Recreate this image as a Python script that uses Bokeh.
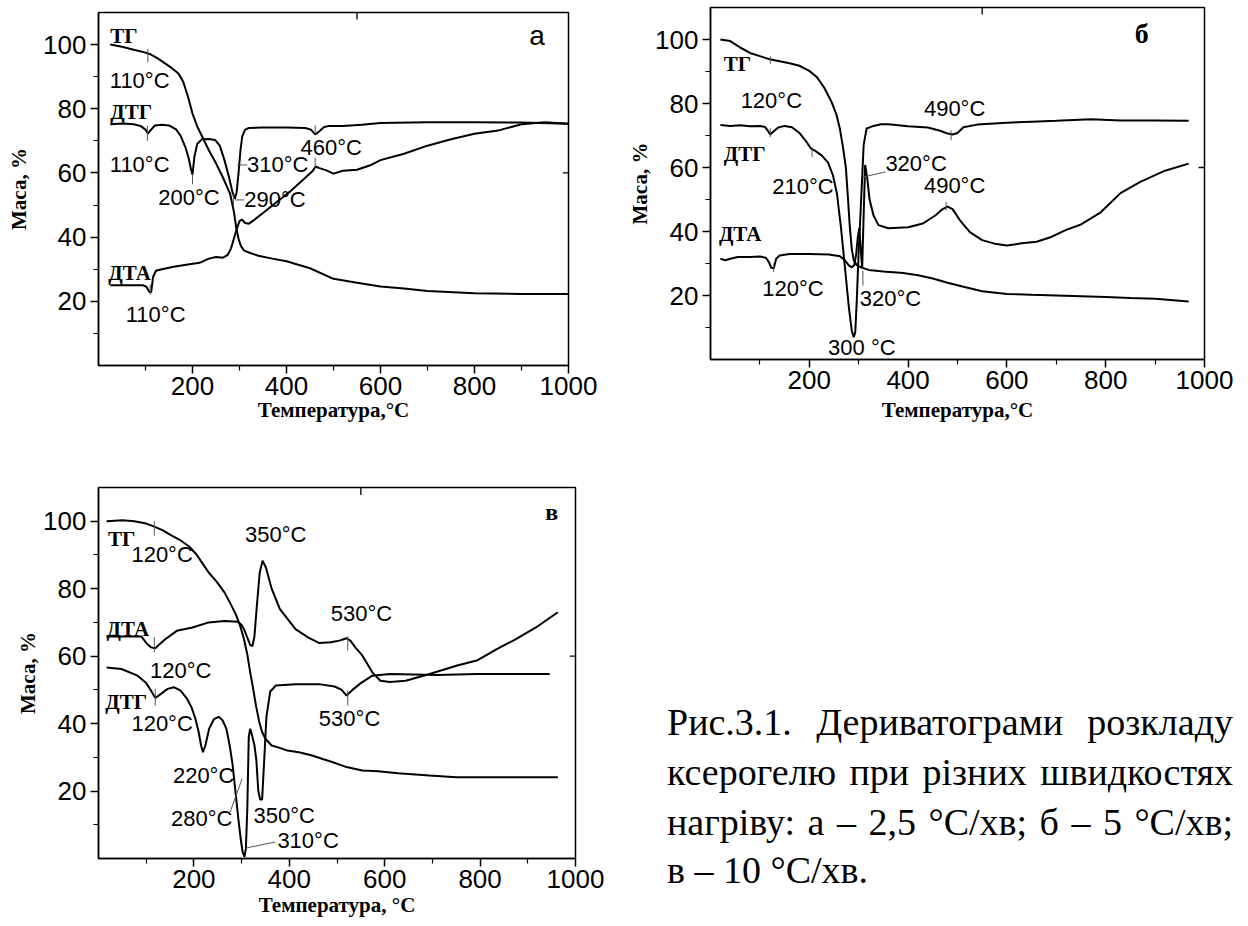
import math
from bokeh.plotting import figure
from bokeh.layouts import row, column
from bokeh.models import FixedTicker, Range1d, Div
from bokeh.core.properties import value
from bokeh.embed import file_html
from bokeh.resources import INLINE

# ---------------- data ----------------
# panel а (2.5 °C/хв)
A_TG_T = [25, 50, 75, 100, 110, 125, 140, 155, 170, 180, 190, 200, 210, 220, 235, 250, 265, 280, 288, 293, 298, 303, 310, 320, 340, 370, 400, 450, 500, 550, 600, 650, 700, 800, 900, 1000]
A_TG_M = [100, 99.3, 98.4, 97.5, 97, 95.8, 94.3, 92.8, 91, 88.5, 84, 78.5, 74.5, 71.5, 67, 63, 58.5, 53.5, 48, 43, 39.5, 37.2, 35.8, 35.2, 34.2, 33.3, 32.5, 30.3, 27, 25.8, 24.6, 24, 23.2, 22.5, 22.3, 22.3]
A_DTG_T = [25, 50, 75, 90, 100, 105, 112, 120, 135, 150, 165, 175, 185, 192, 197, 200, 204, 210, 220, 235, 248, 258, 268, 278, 285, 290, 294, 298, 302, 306, 312, 320, 350, 400, 440, 452, 461, 470, 480, 490, 520, 560, 600, 700, 800, 900, 1000]
A_DTG_M = [75.2, 75.4, 75.2, 74.6, 73.5, 72.3, 73.5, 74.8, 75, 74.8, 73.6, 71.5, 68, 64.5, 61, 59.5, 65, 69, 70.5, 70.6, 70.3, 68.5, 64, 58.5, 54, 52, 54, 60, 67, 71.5, 73.5, 74, 74.2, 74.2, 74, 73.5, 72, 73, 74.3, 74.6, 74.6, 75, 75.6, 75.8, 75.8, 75.7, 75.3]
A_DTA_T = [25, 60, 95, 102, 108, 112, 116, 122, 135, 160, 190, 215, 235, 250, 265, 275, 282, 288, 294, 300, 305, 312, 320, 330, 350, 380, 410, 440, 455, 462, 470, 485, 500, 520, 550, 580, 600, 650, 700, 750, 800, 850, 900, 950, 1000]
A_DTA_M = [25, 25, 25, 24.5, 23, 22.8, 27.5, 29.5, 30, 30.8, 31.5, 32, 33.3, 33.8, 33.6, 34.5, 36.5, 39.5, 42.5, 45, 45.5, 44.4, 44.2, 45.2, 47.5, 51, 54.5, 58.5, 60.5, 62, 61.5, 60.8, 59.8, 60.7, 61, 62.5, 64, 66, 68.5, 70.5, 72.2, 73.2, 75.2, 75.8, 75.3]

# panel б (5 °C/хв)
B_TG_T = [20, 40, 60, 80, 100, 120, 140, 160, 180, 200, 215, 230, 245, 255, 262, 268, 274, 278, 282, 286, 290, 296, 305, 320, 350, 390, 420, 450, 480, 510, 550, 600, 650, 700, 750, 800, 850, 900, 968]
B_TG_M = [100, 99.5, 97.5, 95.8, 94.8, 93.8, 93.2, 92.6, 91.8, 90.2, 88.3, 85, 80.5, 76.5, 72, 66.5, 60, 51, 41.5, 34.5, 31, 29.5, 28.8, 28, 27.5, 27, 26.3, 25.3, 24, 22.8, 21.3, 20.5, 20.2, 20, 19.8, 19.5, 19.2, 19, 18.1]
B_DTG_T = [20, 40, 60, 80, 100, 110, 116, 121, 128, 137, 150, 165, 180, 192, 203, 212, 225, 238, 248, 256, 264, 272, 280, 286, 290, 293, 296, 300, 305, 310, 316, 330, 345, 360, 400, 440, 465, 480, 490, 500, 512, 540, 600, 650, 700, 770, 830, 900, 968]
B_DTG_M = [73.3, 73, 73.2, 72.9, 73, 72.7, 71.5, 70.3, 71.3, 72.5, 73, 72.6, 70.8, 68.5, 66, 65.2, 63.8, 61.5, 57.5, 51.8, 41.4, 29, 16.4, 9, 7, 8.5, 18, 34, 50, 67, 72.2, 73, 73.5, 73.5, 72.9, 72.5, 71.5, 70.6, 70.3, 70.8, 72.6, 73.4, 74, 74.3, 74.6, 75.1, 74.7, 74.7, 74.6]
B_DTA_T = [20, 30, 40, 55, 80, 100, 112, 118, 123, 128, 133, 140, 160, 200, 240, 262, 272, 280, 286, 291, 295, 298, 301, 304, 307, 310, 313, 317, 322, 330, 340, 360, 400, 430, 455, 470, 480, 490, 505, 525, 550, 575, 600, 630, 660, 690, 720, 750, 790, 830, 870, 920, 968]
B_DTA_M = [31.5, 31, 31.5, 32, 32, 32.2, 31.8, 30.5, 28.7, 28.5, 31.5, 32.5, 33, 33, 32.8, 32.3, 31, 29.4, 28.8, 29.5, 33, 38, 41, 35, 28.5, 45, 60.8, 57, 50, 45, 42, 41, 41.3, 42.5, 45, 47, 47.8, 47, 43.5, 39.8, 37.3, 36.2, 35.6, 36.3, 36.8, 38.3, 40.5, 42.2, 46, 52, 55.5, 59, 61.2]

# panel в (10 °C/хв)
V_TG_T = [17, 50, 75, 100, 117, 135, 150, 170, 190, 205, 218, 231, 248, 264, 277, 289, 298, 305, 312, 318, 324, 330, 337, 343, 350, 363, 380, 396, 420, 446, 470, 490, 520, 553, 586, 628, 694, 750, 800, 873, 963]
V_TG_M = [100, 100.3, 100, 99.3, 98.4, 97.3, 96, 94.5, 92.5, 90.2, 87.5, 84.8, 82, 78.9, 75.5, 72, 68.5, 65, 60.5, 55.2, 50.5, 45.4, 40.5, 37.5, 35.5, 33.5, 32.8, 32, 31.5, 30.6, 29.5, 28.6, 27.1, 26.1, 25.9, 25.3, 24.6, 24.1, 24.1, 24.1, 24.1]
V_DTA_T = [17, 50, 90, 102, 110, 119, 128, 140, 164, 197, 231, 264, 293, 300, 305, 312, 318, 323, 327, 332, 338, 344, 351, 363, 380, 413, 440, 462, 487, 505, 520, 528, 540, 553, 574, 591, 611, 644, 694, 752, 793, 835, 876, 917, 963]
V_DTA_M = [65.8, 65.8, 65.8, 63.6, 62.6, 62.3, 63.5, 65, 67.5, 68.5, 70, 70.4, 70.2, 69.2, 68, 65.5, 63.3, 63, 66, 75, 84.8, 88.3, 86.3, 80, 74, 68, 65.5, 63.9, 64.1, 64.6, 65.3, 64.6, 62.3, 60.2, 55.2, 52.7, 52.3, 52.7, 54.7, 57.2, 58.7, 62.1, 65.1, 68.5, 73]
V_DTG_T = [17, 48, 82, 100, 110, 119, 131, 145, 158, 172, 185, 195, 203, 210, 215, 219, 224, 232, 242, 252, 260, 268, 275, 281, 287, 293, 298, 302, 306, 309, 312, 315, 318, 322, 327, 331, 335, 339, 343, 347, 352, 360, 372, 413, 462, 495, 510, 520, 535, 550, 574, 611, 710, 793, 946]
V_DTG_M = [56.6, 56.2, 54.2, 52, 49.8, 47.6, 48.8, 50.3, 50.8, 49.8, 47.5, 44.8, 41.5, 37.5, 33.5, 31.5, 33.5, 38.5, 41.3, 42, 41, 38.5, 33.5, 28, 20, 12, 6, 2, 0.5, 3, 15, 36, 38.5, 36.5, 33.5, 29, 20, 17.5, 17.5, 28, 42, 49.5, 51.3, 51.7, 51.7, 51, 50, 48.3, 50.3, 52, 54.2, 54.7, 54.4, 54.7, 54.7]

X_TICKS = [200, 400, 600, 800, 1000]
X_MINOR = [100, 300, 500, 700, 900]
Y_TICKS = [20, 40, 60, 80, 100]
Y_MINOR = [10, 30, 50, 70, 90]

SANS = "Liberation Sans"
SERIF = "Liberation Serif"

# ---------------- annotations ----------------
# (text, T, M, kind)  kind: 's' sans temperature label, 'c' bold curve name
A_TEXT = [("ТГ", 25, 102.8, "c"), ("110°C", 24, 88.8, "s"), ("ДТГ", 25, 79, "c"), ("110°C", 24, 62.7, "s"),
          ("200°C", 127, 52.3, "s"), ("290°C", 310, 51.8, "s"), ("310°C", 316, 62.7, "s"), ("460°C", 430, 67.9, "s"),
          ("ДТА", 21, 28.9, "c"), ("110°C", 58, 15.8, "s")]
A_MARKS = [(105, 105, 98.6, 94.5), (104, 104, 74.7, 70), (110, 110, 25.2, 22), (200, 200, 59.6, 56.5),
           (287, 287, 53.3, 49.7), (290, 310, 51.6, 51.6), (295, 316, 62.5, 62.5), (461, 461, 74.8, 72.1), (461, 461, 64.8, 61.7)]

B_TEXT = [("ТГ", 27, 92.5, "c"), ("120°C", 61, 81, "s"), ("ДТГ", 27, 64.3, "c"), ("210°C", 125, 54.1, "s"),
          ("ДТА", 17, 39.3, "c"), ("120°C", 105, 22.1, "s"), ("300 °C", 238, 3.8, "s"), ("320°C", 302, 19, "s"),
          ("320°C", 354, 61.2, "s"), ("490°C", 432, 78.4, "s"), ("490°C", 432, 54.4, "s")]
B_MARKS = [(121, 121, 94.8, 92.3), (121, 121, 72.2, 69.5), (205.6, 205.6, 66.4, 63.3), (128, 128, 30, 27.3),
           (308.5, 308.5, 27.8, 23.1), (308.5, 354, 57, 58.6), (487, 487, 71.6, 68.5), (477, 477, 49.2, 46.6)]

V_TEXT = [("ТГ", 20, 94.7, "c"), ("120°C", 69, 90.2, "s"), ("350°C", 307, 96.2, "s"), ("ДТА", 17, 68, "c"),
          ("120°C", 108, 55.7, "s"), ("530°C", 487, 72.5, "s"), ("ДТГ", 14, 46.3, "c"), ("120°C", 69, 40, "s"),
          ("530°C", 462, 41.4, "s"), ("220°C", 156, 24.6, "s"), ("280°C", 152, 11.8, "s"), ("350°C", 325, 12.8, "s"),
          ("310°C", 375, 5.4, "s")]
V_MARKS = [(117, 117, 100, 95.7), (117, 117, 65.6, 61.1), (119, 119, 50.3, 45.4), (522.6, 522.6, 66, 61.6),
           (522.6, 522.6, 49.8, 45.4), (276, 301, 13.8, 23.6), (309, 371, 3.1, 4.9)]


def make_panel(fig_w, fig_h, box, curves, texts, marks, letter, xlabel, ystand, xstand):
    left, top, fw, fh = box
    p = figure(width=fig_w, height=fig_h, frame_width=fw, frame_height=fh,
               min_border_left=left, min_border_top=top,
               min_border_right=fig_w - left - fw, min_border_bottom=fig_h - top - fh,
               x_range=Range1d(0, 1000), y_range=Range1d(0, 110),
               output_backend="svg", toolbar_location=None)
    p.grid.visible = False
    p.outline_line_color = "black"
    p.outline_line_width = 1.5
    p.background_fill_color = "white"
    p.border_fill_color = "white"
    p.xaxis.ticker = FixedTicker(ticks=X_TICKS, minor_ticks=X_MINOR)
    p.yaxis.ticker = FixedTicker(ticks=Y_TICKS, minor_ticks=Y_MINOR)
    for ax in (p.xaxis[0], p.yaxis[0]):
        ax.axis_line_width = 1.5
        ax.axis_line_color = "black"
        ax.major_tick_line_width = 1.5
        ax.minor_tick_line_width = 1.2
        ax.major_tick_line_color = "black"
        ax.minor_tick_line_color = "black"
        ax.major_tick_out = 8
        ax.major_tick_in = 0
        ax.minor_tick_out = 5
        ax.minor_tick_in = 0
        ax.major_label_text_font = SANS
        ax.major_label_text_font_size = "26px"
        ax.major_label_text_color = "black"
        ax.axis_label_text_font = SERIF
        ax.axis_label_text_font_style = "bold"
        ax.axis_label_text_font_size = "21px"
        ax.axis_label_text_color = "black"
    p.yaxis.major_label_standoff = 4
    p.xaxis.major_label_standoff = 3
    p.yaxis.axis_label = "Маса, %"
    p.xaxis.axis_label = xlabel
    p.yaxis.axis_label_standoff = ystand
    p.xaxis.axis_label_standoff = xstand

    # inner frame ticks (top / right)
    p.segment(x0=[550], y0=[110], x1=[550], y1=[107.8], line_color="black", line_width=1.3)
    p.segment(x0=[1000], y0=[60], x1=[988], y1=[60], line_color="black", line_width=1.3)

    for T, M in curves:
        p.line(T, M, line_color="black", line_width=2)

    p.segment(x0=[m[0] for m in marks], x1=[m[1] for m in marks],
              y0=[m[2] for m in marks], y1=[m[3] for m in marks],
              line_color="#555555", line_width=1)

    s = [t for t in texts if t[3] == "s"]
    c = [t for t in texts if t[3] == "c"]
    p.text(x=[t[1] for t in s], y=[t[2] for t in s], text=[t[0] for t in s],
           text_font=value(SANS), text_font_size="22px", text_color="black",
           text_align="left", text_baseline="middle")
    p.text(x=[t[1] for t in c], y=[t[2] for t in c], text=[t[0] for t in c],
           text_font=value(SERIF), text_font_style="bold", text_font_size="21px", text_color="black",
           text_align="left", text_baseline="middle")

    ltxt, lx, ly, lfont, lstyle, lsize = letter
    p.text(x=[lx], y=[ly], text=[ltxt], text_font=value(lfont), text_font_style=lstyle,
           text_font_size=lsize, text_align="center", text_baseline="middle", text_color="black")
    return p


pa = make_panel(620, 440, (98, 12, 470, 353),
                [(A_TG_T, A_TG_M), (A_DTG_T, A_DTG_M), (A_DTA_T, A_DTA_M)],
                A_TEXT, A_MARKS, ("а", 933, 102.8, SANS, "normal", "28px"),
                "Температура,°C", 9, 0)
pb = make_panel(628, 440, (90, 7, 494, 352),
                [(B_TG_T, B_TG_M), (B_DTG_T, B_DTG_M), (B_DTA_T, B_DTA_M)],
                B_TEXT, B_MARKS, ("б", 873, 101.9, SERIF, "bold", "28px"),
                "Температура,°C", 0, 6)
pv = make_panel(620, 486, (96, 47, 477, 371),
                [(V_TG_T, V_TG_M), (V_DTA_T, V_DTA_M), (V_DTG_T, V_DTG_M)],
                V_TEXT, V_MARKS, ("в", 950, 102.6, SERIF, "bold", "24px"),
                "Температура, °C", 0, 2)

# ---------------- caption (justified paragraph) ----------------
CAP_LINES = ["Рис.3.1. Дериватограми розкладу",
             "ксерогелю при різних швидкостях",
             "нагріву: а – 2,5 °C/хв; б – 5 °C/хв;"]
CAP_LAST = "в – 10 °C/хв."

cap_html = (
    "<div style=\"position:relative;width:628px;height:486px;font-family:'Liberation Serif',serif;"
    "font-size:38px;color:#000;\">"
    "<div style=\"position:absolute;left:42px;top:252px;width:566px;line-height:50px;"
    "text-align:justify;text-align-last:justify;\">"
    + "<br>".join(CAP_LINES) +
    "</div>"
    "<div style=\"position:absolute;left:42px;top:400px;line-height:50px;white-space:nowrap;\">"
    + CAP_LAST +
    "</div></div>"
)
cap = Div(text=cap_html, width=628, height=486)

layout = row(column(pa, pv), column(pb, cap))
open("out.html", "w").write(file_html(layout, INLINE))
